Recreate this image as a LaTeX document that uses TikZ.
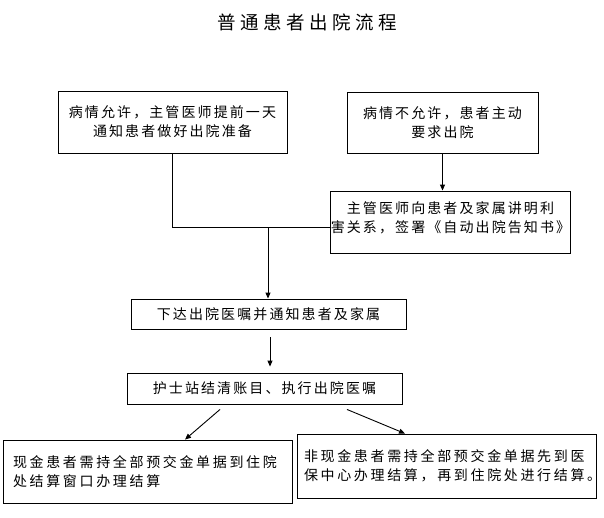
\documentclass[tikz,border=0pt]{standalone}
\usepackage{fontspec}
\setmainfont{Noto Sans CJK SC}
\newfontfamily\cjk[LetterSpace=15]{Noto Sans CJK SC}
\newfontfamily\cjkwide[LetterSpace=19]{Noto Sans CJK SC}
\newfontfamily\cjktitle[LetterSpace=24]{Noto Sans CJK SC}
\usetikzlibrary{arrows.meta,positioning}

\begin{document}
\begin{tikzpicture}[x=1pt, y=-1pt,
    flow/.style={draw, line width=0.9pt, inner sep=0pt, align=center,
                 font=\cjk\fontsize{14}{19}\selectfont},
    leftflow/.style={flow, align=left, inner xsep=10pt,
                     font=\cjkwide\fontsize{14}{18.5}\selectfont},
    conn/.style={line width=0.9pt},
    arr/.style={conn, -{Triangle[length=6pt,width=5pt]}}
]
\useasboundingbox (0,0) rectangle (604,517);
\node[font=\cjktitle\fontsize{18.5}{20}\selectfont] (title) at (307,22) {普通患者出院流程};
% top row
\node[flow, minimum width=229pt, minimum height=62pt] (allow) at (172.5,122)
    {病情允许，主管医师提前一天\\通知患者做好出院准备};
\node[flow, minimum width=191pt, minimum height=61pt] (refuse) at (442.5,122.5)
    {病情不允许，患者主动\\要求出院};
\node[flow, minimum width=239pt, minimum height=62pt] (inform) at (450.5,222)
    {主管医师向患者及家属讲明利\\害关系，签署《自动出院告知书》\\[-10pt]~};
% middle
\node[flow, minimum width=275pt, minimum height=30pt] (order) at (268.5,314)
    {下达出院医嘱并通知患者及家属};
\node[flow, minimum width=275pt, minimum height=31pt] (nurse) at (264.5,388.5)
    {护士站结清账目、执行出院医嘱};
% bottom row
\node[leftflow, text width=269pt, minimum height=63pt] (cash) at (147.5,471.5)
    {现金患者需持全部预交金单据到住院\\处结算窗口办理结算};
\node[leftflow, text width=285pt, inner xsep=7pt, minimum height=64pt] (noncash) at (446.5,466)
    {非现金患者需持全部预交金单据先到医\\保中心办理结算，再到住院处进行结算。};
\coordinate (join) at (268,227);
\draw[conn] (allow.south) |- (join);
\draw[conn] (inform.west |- join) -- (join);
\draw[arr] (join) -- (join |- order.north);
\draw[arr] (refuse.south) -- (refuse.south |- inform.north);
\draw[arr, shorten <=8pt, shorten >=6pt] ([xshift=1.5pt]order.south) -- ([xshift=1.5pt]order.south |- nurse.north);
\draw[arr] ([xshift=-44.5pt,yshift=-5pt]nurse.south) -- ([xshift=37.5pt]cash.north);
\draw[arr] ([xshift=82.5pt,yshift=-5pt]nurse.south) -- ([xshift=-41.5pt]noncash.north);
\end{tikzpicture}
\end{document}
